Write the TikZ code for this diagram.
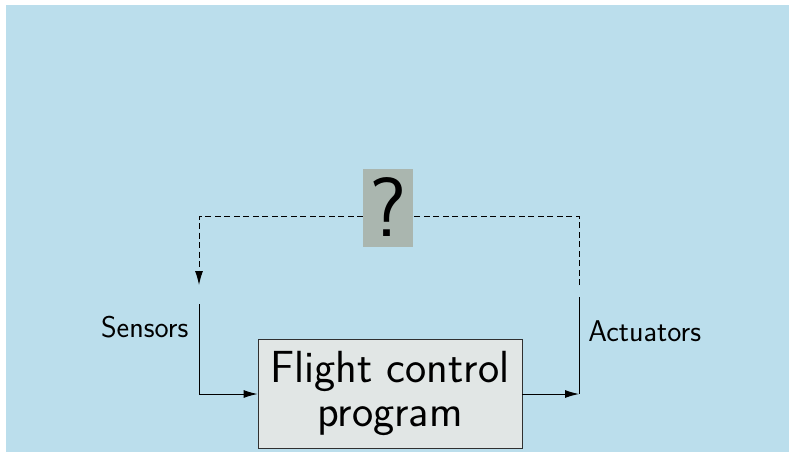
\documentclass[tikz,border=0pt]{standalone}
\usepackage{fontspec}
\usetikzlibrary{arrows.meta}
\definecolor{bgblue}{HTML}{BBDEEC}
\definecolor{boxfill}{HTML}{E1E6E5}
\definecolor{qfill}{HTML}{AAB6AF}
\definecolor{edge}{HTML}{303030}
\tikzset{
  wire/.style={line width=1pt, draw=black},
  dashwire/.style={wire, dash pattern=on 6pt off 3.5pt},
  tip/.style={-{Latex[length=14pt,width=8pt]}},
  progbox/.style={draw=edge, line width=0.8pt, fill=boxfill, minimum width=264pt,
    minimum height=109pt, align=center, inner sep=0pt,
    font=\sffamily\fontsize{45}{43.5}\selectfont},
  qbox/.style={fill=qfill, minimum width=50pt, minimum height=78pt, inner sep=0pt,
    text height=56.8pt, text depth=0pt,
    font=\sffamily\fontsize{84}{84}\selectfont},
  label/.style={anchor=base, inner sep=0pt, font=\sffamily\fontsize{30}{32}\selectfont}
}
\begin{document}
\begin{tikzpicture}[x=1pt, y=-1pt]
  % canvas
  \useasboundingbox (0,0) rectangle (789,452);
  \fill[bgblue] (6,5) rectangle (789,452);

  % main block
  \node[progbox] (prog) at (390,393.5) {Flight control\\program};

  % loop corner points
  \coordinate (lin)   at (199,304);
  \coordinate (ltip)  at (199,285);
  \coordinate (rout)  at (579,297);
  \coordinate (rdash) at (579,285);
  \coordinate (lsens) at (199,394);
  \coordinate (ract)  at (579,394);
  \coordinate (top)   at (199,216);

  % unknown link through the environment
  \draw[dashwire, tip] (rdash) |- (top) -- (ltip);
  \node[qbox] (q) at (388.3,208.3) {?};

  % sensors and actuators
  \draw[wire, tip] (lin) -- (lsens) -- (prog.west |- lsens);
  \draw[wire, tip] (prog.east |- ract) -- (ract);
  \draw[wire] (rout) -- (ract);

  \node[label] (sens) at (144.7,337.5) {Sensors};
  \node[label] (act)  at (644.7,341.5) {Actuators};
\end{tikzpicture}
\end{document}
